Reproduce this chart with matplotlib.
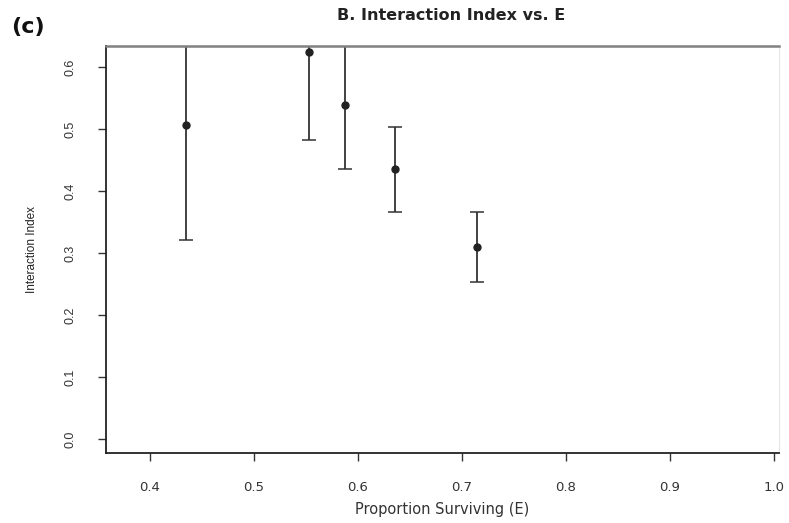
import matplotlib
matplotlib.use("Agg")
import matplotlib.pyplot as plt

# Interaction index against proportion surviving (E), mean +/- error
surviving = [0.435, 0.553, 0.588, 0.636, 0.715]
interaction = [0.506, 0.625, 0.539, 0.435, 0.310]
err = [0.185, 0.143, 0.104, 0.069, 0.057]

xticks = [0.4, 0.5, 0.6, 0.7, 0.8, 0.9, 1.0]
yticks = [0.0, 0.1, 0.2, 0.3, 0.4, 0.5, 0.6]

wide = ['DejaVu Sans']
narrow = ['Liberation Sans Narrow', 'Liberation Sans', 'DejaVu Sans']
plt.rcParams['font.family'] = wide

fig = plt.figure(figsize=(7.89, 5.23), dpi=100)
ax = fig.add_axes([106 / 789, 1 - 453 / 523, (779 - 106) / 789, (453 - 46) / 523])

ax.errorbar(surviving, interaction, yerr=err, fmt='o', color='#222222',
            ecolor='#333333', elinewidth=1.3, capsize=4.7, capthick=1.1,
            markersize=5)

ax.set_xlim(0.3577, 1.005)
ax.set_ylim(-0.022, 0.634)
ax.set_xticks(xticks)
ax.set_xticklabels(['%.1f' % v for v in xticks], fontsize=9.5, color='#333333')
ax.set_yticks(yticks)
ax.set_yticklabels(['%.1f' % v for v in yticks], fontsize=9, color='#333333',
                   rotation=90, va='center', family=narrow)
ax.tick_params(axis='both', length=6, width=1, color='#333333')
ax.tick_params(axis='x', pad=14)
ax.tick_params(axis='y', pad=15)

for side in ['left', 'bottom']:
    ax.spines[side].set_linewidth(1.3)
    ax.spines[side].set_color('#222222')
ax.spines['top'].set_linewidth(1.8)
ax.spines['top'].set_color('#808080')
ax.spines['right'].set_linewidth(0.8)
ax.spines['right'].set_color('#e6e6e6')

ax.set_xlabel('Proportion Surviving (E)', fontsize=10.5, color='#333333', labelpad=6)
ax.set_ylabel('Interaction Index', fontsize=8.5, color='#222222', labelpad=19,
              family=narrow)

fig.text(451 / 789, 1 - 16 / 523, 'B. Interaction Index vs. E', ha='center',
         va='center', fontsize=11.5, fontweight='bold', color='#222222')
fig.text(11 / 789, 1 - 27 / 523, '(c)', ha='left', va='center',
         fontsize=16, fontweight='bold', color='#111111')
fig.text(2 / 789, -7 / 523, '(d)', ha='left', va='center',
         fontsize=11, color='#3a6fd8')

fig.savefig('out.png', dpi=100)
